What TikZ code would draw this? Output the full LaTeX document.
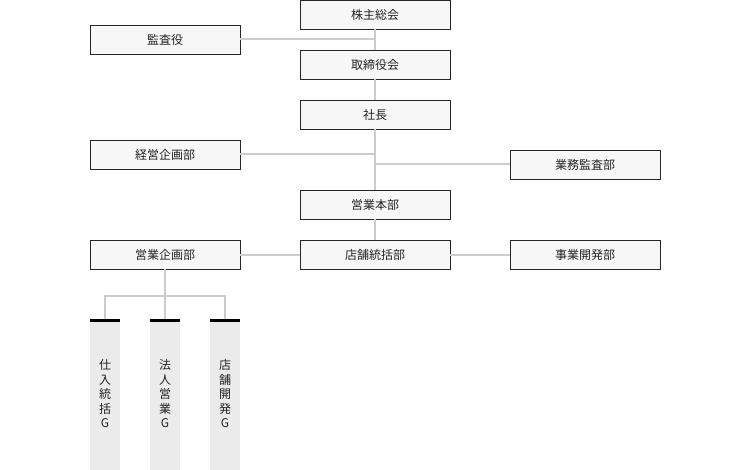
\documentclass[tikz,border=0pt]{standalone}
\usepackage{fontspec}
\setmainfont{Noto Sans CJK JP}
\usetikzlibrary{positioning,calc}
\definecolor{linegray}{HTML}{CCCCCC}
\definecolor{boxfill}{HTML}{F7F7F7}
\definecolor{barfill}{HTML}{EBEBEB}
\definecolor{textgray}{HTML}{222222}
\begin{document}
\begin{tikzpicture}[
    x=1pt, y=-1pt,
    font=\fontsize{12pt}{14pt}\selectfont, text=textgray,
    unit/.style = {
      rectangle, draw=black!85, fill=boxfill, line width=.8pt,
      minimum width=150pt, minimum height=29pt, inner sep=0pt,
    },
    group/.style = {
      rectangle, fill=barfill, minimum width=30pt, minimum height=150pt,
      anchor=north, inner sep=0pt,
    },
    link/.style = { linegray, line width=2pt },
  ]
  \useasboundingbox (0,0) rectangle (730,470);
  % main column
  \node[unit] (Meeting)  at (375,14.5)  {株主総会};
  \node[unit] (Board)    at (375,64.5)  {取締役会};
  \node[unit] (Pres)     at (375,114.5) {社長};
  \node[unit] (SalesHQ)  at (375,204.5) {営業本部};
  \node[unit] (Stores)   at (375,254.5) {店舗統括部};
  % side units
  \node[unit] (Auditor)  at (165,39.5)  {監査役};
  \node[unit] (Planning) at (165,154.5) {経営企画部};
  \node[unit] (Audit)    at (585,164.5) {業務監査部};
  \node[unit] (SalesPl)  at (165,254.5) {営業企画部};
  \node[unit] (BizDev)   at (585,254.5) {事業開発部};
  % connectors
  \draw[link] (Meeting) -- (Board);
  \draw[link] (Board) -- (Pres);
  \draw[link] (Pres) -- (SalesHQ);
  \draw[link] (SalesHQ) -- (Stores);
  \draw[link] (Auditor.east) -- (Auditor.east -| Meeting.south);
  \draw[link] (Planning.east) -- (Planning.east -| Pres.south);
  \draw[link] (Audit.west) -- (Audit.west -| Pres.south);
  \draw[link] (SalesPl) -- (Stores);
  \draw[link] (Stores) -- (BizDev);
  % groups
  \coordinate (Fork) at (165,296);
  \foreach \x/\name/\txt in {105/Buy/{仕\\入\\統\\括\\G},
                             165/Corp/{法\\人\\営\\業\\G},
                             225/Open/{店\\舗\\開\\発\\G}} {
    \node[group] (\name) at (\x,320) {};
    \node[align=center, anchor=north, font=\fontsize{12pt}{14.5pt}\selectfont]
      at ($(\name.north)+(0,36)$) {\txt};
    \draw[black, line width=3pt] (\name.north west) -- (\name.north east);
    \draw[link] (\name.north) ++(0,-1.5) |- (Fork);
  }
  \draw[link] (SalesPl) -- (Fork);
\end{tikzpicture}
\end{document}
